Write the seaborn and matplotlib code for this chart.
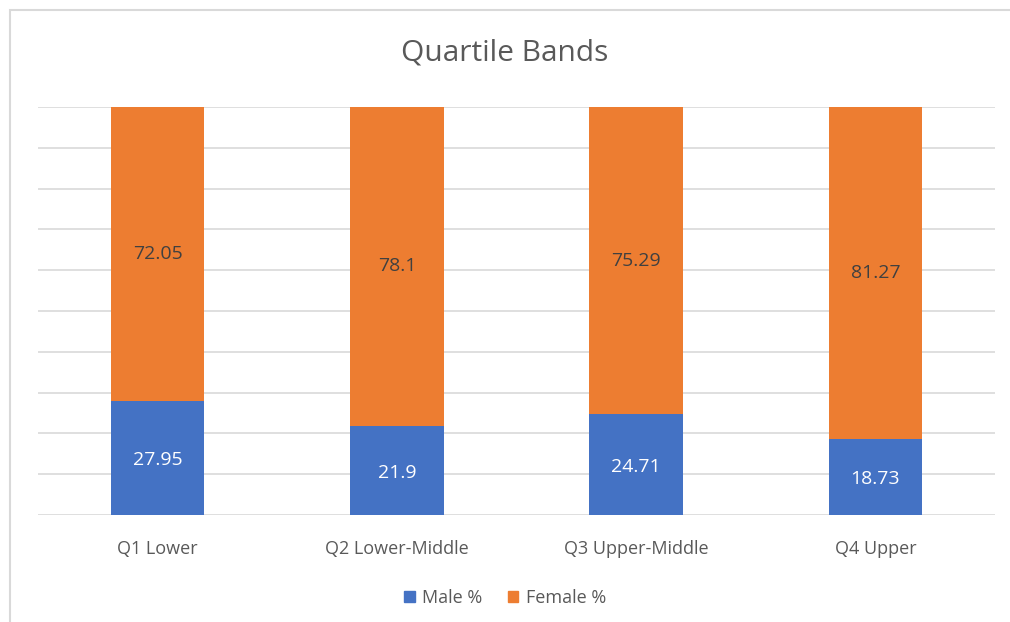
import matplotlib
matplotlib.use("Agg")
import matplotlib.pyplot as plt
import seaborn as sns
import pandas as pd
from matplotlib.patches import Rectangle

# data
categories = ["Q1 Lower", "Q2 Lower-Middle", "Q3 Upper-Middle", "Q4 Upper"]
male_pct = [27.95, 21.9, 24.71, 18.73]
female_pct = [72.05, 78.1, 75.29, 81.27]

blue = "#4472C4"
orange = "#ED7D31"

sns.set_theme(style="white")
plt.rcParams['font.family'] = ['Open Sans', 'DejaVu Sans']

df = pd.DataFrame({"band": categories, "male": male_pct, "female": female_pct})
df["total"] = df["male"] + df["female"]

fig = plt.figure(figsize=(10.1, 6.22), dpi=100)
ax = fig.add_axes([38 / 1010, 1 - 515 / 622, 957 / 1010, 408 / 622])

# stacked: full bar in orange, male part drawn over it in blue
sns.barplot(data=df, x="band", y="total", color=orange, width=0.39, saturation=1,
            linewidth=0, ax=ax)
sns.barplot(data=df, x="band", y="male", color=blue, width=0.39, saturation=1,
            linewidth=0, ax=ax)

ax.set_ylim(0, 100)
ax.set_xlim(-0.5, 3.5)
ax.set_yticks(range(0, 101, 10))
ax.yaxis.grid(True, color="#D9D9D9", linewidth=1.2)
ax.set_axisbelow(True)
ax.set_yticklabels([])
ax.tick_params(axis="y", length=0)
ax.tick_params(axis="x", length=0, labelsize=13, labelcolor="#595959", pad=18)
ax.set_xlabel("")
ax.set_ylabel("")
for s in ax.spines.values():
    s.set_visible(False)

# value labels
for i, (m, f) in enumerate(zip(male_pct, female_pct)):
    ax.text(i, m / 2 - 0.6, f"{m:g}", ha="center", va="center", color="white", fontsize=14)
    ax.text(i, m + f / 2, f"{f:g}", ha="center", va="center", color="#404040", fontsize=14)

fig.text(0.5, 1 - 53 / 622, "Quartile Bands", ha="center", va="center", fontsize=21.5, color="#595959")

# legend
handles = [Rectangle((0, 0), 1, 1, color=blue), Rectangle((0, 0), 1, 1, color=orange)]
fig.legend(handles, ["Male %", "Female %"], loc="center", bbox_to_anchor=(0.5, 1 - 598 / 622),
           ncol=2, frameon=False, fontsize=13, handlelength=0.6, handleheight=0.6,
           handletextpad=0.4, columnspacing=1.4, labelcolor="#595959")

# chart area border
fig.add_artist(Rectangle((10 / 1010, -0.01), 1.0, 1 - 10 / 622 + 0.01, transform=fig.transFigure,
                         fill=False, edgecolor="#D9D9D9", linewidth=1.5))

fig.savefig("out.png", dpi=100)
